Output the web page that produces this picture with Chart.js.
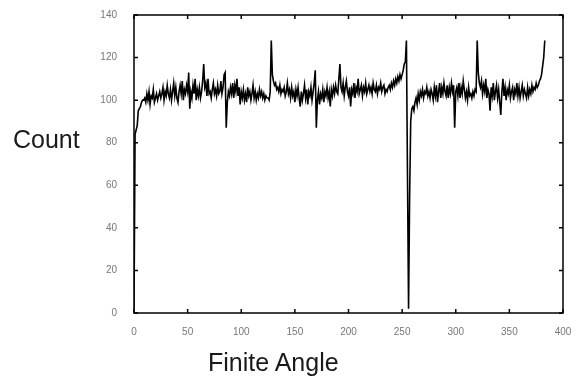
<!DOCTYPE html>
<html>
<head>
<meta charset="utf-8">
<script src="https://cdn.jsdelivr.net/npm/chart.js@4/dist/chart.umd.min.js"></script>
<style>
  html, body { margin: 0; padding: 0; background: #fff; }
  #wrap { position: relative; width: 578px; height: 378px; }
  #angleChart { position: absolute; left: 0; top: 0; }
  .axis-title { position: absolute; font-family: 'Liberation Sans', Arial, sans-serif; font-size: 25px; line-height: 25px; color: #1a1a1a; white-space: nowrap; }
</style>
</head>
<body>
<div id="wrap">
  <canvas id="angleChart" width="578" height="378"></canvas>
  <div class="axis-title" style="left:13px; top:127px;">Count</div>
  <div class="axis-title" style="left:208px; top:350px;">Finite Angle</div>
</div>
<script>
// Count per finite angle, angle = position in the list (0..383)
const counts = [
    2, 84, 86, 88, 95, 96, 97, 99, 100, 100,
    101, 99, 103, 100, 104, 98, 102, 101, 105, 99,
    101, 103, 100, 102, 104, 101, 103, 106, 100, 104,
    102, 107, 103, 101, 105, 100, 104, 108, 102, 106,
    101, 99, 104, 107, 103, 109, 100, 105, 103, 107,
    104, 113, 96, 104, 101, 107, 103, 110, 100, 105,
    102, 106, 101, 104, 109, 117, 106, 108, 102, 110,
    103, 104, 101, 105, 108, 103, 105, 102, 107, 103,
    104, 109, 103, 106, 112, 113, 87, 99, 104, 102,
    106, 103, 108, 101, 107, 104, 110, 102, 106, 98,
    104, 101, 105, 100, 103, 99, 106, 102, 104, 100,
    103, 107, 101, 104, 100, 103, 101, 105, 102, 104,
    101, 103, 100, 102, 101, 101, 100, 104, 128, 112,
    109, 107, 108, 105, 106, 104, 107, 103, 105, 104,
    106, 102, 104, 108, 103, 105, 101, 106, 102, 104,
    99, 105, 102, 106, 101, 97, 104, 100, 103, 107,
    101, 105, 98, 104, 102, 106, 100, 104, 108, 114,
    87, 100, 104, 98, 103, 101, 105, 99, 104, 102,
    106, 101, 104, 97, 105, 102, 106, 103, 107, 104,
    103, 110, 117, 106, 104, 108, 102, 106, 109, 104,
    102, 106, 97, 105, 103, 108, 101, 106, 104, 110,
    103, 105, 107, 102, 106, 104, 108, 103, 105, 107,
    104, 106, 103, 108, 105, 104, 107, 103, 106, 105,
    108, 104, 106, 107, 103, 105, 104, 106, 107, 105,
    108, 106, 109, 107, 110, 108, 111, 109, 112, 110,
    112, 114, 117, 118, 128, 65, 2, 55, 90, 96,
    97, 95, 99, 101, 98, 103, 100, 104, 102, 105,
    101, 104, 103, 106, 102, 104, 101, 105, 103, 100,
    106, 102, 107, 99, 104, 108, 101, 106, 103, 108,
    104, 102, 107, 101, 106, 103, 108, 104, 107, 87,
    104, 106, 102, 108, 101, 106, 103, 109, 105, 101,
    104, 100, 106, 102, 103, 101, 104, 102, 105, 104,
    128, 113, 108, 106, 109, 103, 107, 104, 110, 101,
    105, 103, 95, 106, 102, 108, 100, 104, 107, 101,
    105, 99, 93, 104, 110, 102, 106, 100, 105, 103,
    107, 101, 104, 106, 100, 105, 103, 108, 102, 106,
    101, 104, 107, 102, 105, 103, 101, 106, 102, 105,
    103, 107, 104, 106, 105, 108, 106, 107, 109, 110,
    112, 116, 120, 128
];

// Axis ranges and tick steps
const xRange = [0, 400];
const xStep = 50;
const yRange = [0, 140];
const yStep = 20;

const points = counts.map((c, angle) => ({ x: angle, y: c }));

// Box around the plot with small inward ticks on all four sides (gnuplot look)
const frame = {
    id: 'frame',
    afterDraw(chart) {
        const { ctx, chartArea: a, scales } = chart;
        const len = 4;
        ctx.save();
        ctx.strokeStyle = '#000';
        ctx.lineWidth = 1.5;
        ctx.strokeRect(a.left, a.top, a.right - a.left, a.bottom - a.top);
        ctx.beginPath();
        scales.x.ticks.forEach(t => {
            const px = scales.x.getPixelForValue(t.value);
            ctx.moveTo(px, a.bottom); ctx.lineTo(px, a.bottom - len);
            ctx.moveTo(px, a.top); ctx.lineTo(px, a.top + len);
        });
        scales.y.ticks.forEach(t => {
            const py = scales.y.getPixelForValue(t.value);
            ctx.moveTo(a.left, py); ctx.lineTo(a.left + len, py);
            ctx.moveTo(a.right, py); ctx.lineTo(a.right - len, py);
        });
        ctx.stroke();
        ctx.restore();
    }
};

const tickFont = { family: "'Liberation Sans', Arial, sans-serif", size: 10 };

const ctx = document.getElementById('angleChart').getContext('2d');
const angleChart = new Chart(ctx, {
    type: 'line',
    data: {
        datasets: [{
            data: points,
            borderColor: '#000',
            borderWidth: 1.6,
            pointRadius: 0,
            tension: 0,
            fill: false
        }]
    },
    options: {
        responsive: false,
        animation: false,
        layout: { padding: { left: 0, right: 15, top: 14, bottom: 0 } },
        plugins: { legend: { display: false }, tooltip: { enabled: false } },
        scales: {
            x: {
                type: 'linear',
                min: xRange[0],
                max: xRange[1],
                grid: { display: false },
                border: { display: false },
                ticks: { stepSize: xStep, color: '#777', font: tickFont, padding: 5, maxRotation: 0 },
                afterFit: s => { s.height = 65; }
            },
            y: {
                min: yRange[0],
                max: yRange[1],
                grid: { display: false },
                border: { display: false },
                ticks: { stepSize: yStep, color: '#777', font: tickFont, padding: 9 },
                afterFit: s => { s.width = 134; }
            }
        }
    },
    plugins: [frame]
});
</script>
</body>
</html>
